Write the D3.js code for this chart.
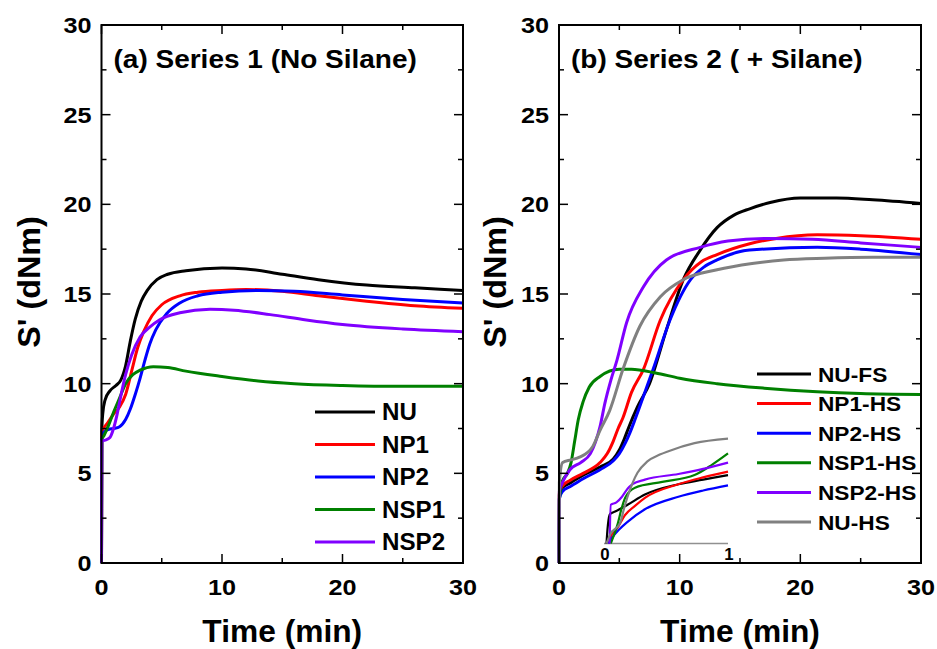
<!DOCTYPE html>
<html><head><meta charset="utf-8">
<script src="https://cdn.jsdelivr.net/npm/d3@7"></script>
<style>
body{margin:0;background:#fff;}
text{font-family:Arial,"Liberation Sans",sans-serif;font-weight:bold;fill:#000;}
</style></head>
<body><svg id="c" width="937" height="649"></svg>
<script>
// ---------- DATA ----------
const xTickLabels = [0, 10, 20, 30];
const xMinorTicks = [5, 15, 25];
const yTickLabels = [0, 5, 10, 15, 20, 25, 30];
const yMinorTicks = [2.5, 7.5, 12.5, 17.5, 22.5, 27.5];

// Panel (a) — Series 1 (No Silane): [time (min), S' (dNm)]
const namesA = ["NU", "NP1", "NP2", "NSP1", "NSP2"];
const colorsA = ["#000000", "#ff0000", "#0000ff", "#008000", "#8000ff"];
const NU = [[0,0],[0.02,7.3],[0.1,8.3],[0.3,9.1],[0.7,9.6],[1.2,9.9],[1.6,10.2],[2.0,11.0],[2.4,12.4],[2.8,13.6],[3.3,14.6],[3.8,15.2],[4.6,15.8],[5.5,16.1],[7,16.3],[10,16.45],[12,16.4],[15,16.1],[18,15.8],[22,15.5],[26,15.35],[30,15.2]];
const NP1 = [[0,0],[0.02,7.1],[0.1,7.4],[0.5,7.8],[1.0,8.3],[1.5,8.7],[2.0,9.4],[2.5,10.7],[3.0,12.0],[3.5,12.9],[4.2,13.8],[5,14.4],[6.5,14.9],[8,15.1],[10,15.2],[12,15.25],[15,15.15],[18,14.9],[22,14.6],[26,14.35],[30,14.2]];
const NP2 = [[0,0],[0.02,6.9],[0.2,7.3],[0.6,7.45],[1.0,7.5],[1.5,7.6],[2.0,8.0],[2.4,8.6],[2.8,9.4],[3.2,10.3],[3.6,11.3],[4.0,12.2],[4.5,13.0],[5.4,13.9],[6.5,14.5],[8,14.9],[10,15.1],[13,15.2],[16,15.15],[20,14.95],[25,14.7],[30,14.5]];
const NSP1 = [[0,0],[0.02,6.9],[0.2,7.1],[0.6,7.7],[1.0,8.4],[1.5,9.2],[2.0,10.0],[2.6,10.5],[3.2,10.75],[4.3,10.95],[5.5,10.9],[7,10.7],[10,10.4],[13,10.15],[16,10.0],[20,9.9],[25,9.85],[30,9.85]];
const NSP2 = [[0,0],[0.02,6.8],[0.3,6.85],[0.7,7.0],[1.0,7.5],[1.3,8.3],[1.6,9.3],[2.0,10.5],[2.5,11.6],[3.2,12.6],[4,13.15],[4.8,13.55],[6.5,13.95],[9,14.15],[11,14.1],[14,13.85],[17,13.55],[20,13.3],[25,13.05],[30,12.9]];

// Panel (b) — Series 2 (+ Silane)
const namesB = ["NU-FS", "NP1-HS", "NP2-HS", "NSP1-HS", "NSP2-HS", "NU-HS"];
const colorsB = ["#000000", "#ff0000", "#0000ff", "#008000", "#8000ff", "#808080"];
const NU_FS = [[0,0],[0.03,3.8],[0.3,4.2],[0.9,4.45],[2,4.9],[3.4,5.35],[4.5,5.8],[5.0,6.3],[5.4,6.9],[5.8,7.6],[6.5,8.7],[7.5,10.0],[8.9,13.0],[10.3,15.8],[11.7,17.45],[13.1,18.7],[14.5,19.4],[15.8,19.75],[17.5,20.1],[20,20.35],[23,20.35],[26,20.25],[30,20.05]];
const NP1_HS = [[0,0],[0.03,3.9],[0.3,4.3],[0.9,4.6],[2,5.0],[3.4,5.6],[4.0,6.1],[4.5,6.8],[4.9,7.5],[5.3,8.1],[6.0,9.5],[7.0,10.8],[8.4,13.55],[10.3,15.8],[11.8,16.8],[13.1,17.2],[15.8,17.8],[18,18.1],[21.4,18.3],[25,18.25],[30,18.05]];
const NP2_HS = [[0,0],[0.03,3.6],[0.3,4.0],[0.9,4.25],[2,4.7],[3.4,5.2],[4.5,5.7],[5.0,6.1],[5.5,6.7],[5.9,7.3],[6.3,8.0],[7.0,9.3],[7.8,10.8],[9.2,13.55],[10.9,15.8],[12,16.5],[13.1,16.9],[15.8,17.45],[21.4,17.6],[25,17.5],[30,17.2]];
const NSP1_HS = [[0,0],[0.03,3.5],[0.3,4.6],[0.7,5.0],[1.0,5.6],[1.3,6.8],[1.6,8.0],[2.0,9.0],[2.5,9.8],[3.4,10.4],[5,10.8],[6,10.8],[8,10.6],[10,10.3],[13.1,10.0],[17,9.75],[21.4,9.55],[25,9.45],[30,9.4]];
const NSP2_HS = [[0,0],[0.03,4.0],[0.3,4.5],[0.9,5.2],[1.8,5.6],[2.6,6.1],[3.0,6.7],[3.4,7.6],[3.8,8.9],[4.3,10.2],[4.8,11.3],[5.6,13.4],[7.0,15.4],[8.9,16.9],[11.7,17.6],[14,17.95],[17.2,18.1],[21,18.05],[25,17.85],[30,17.6]];
const NU_HS = [[0,0],[0.03,4.5],[0.3,5.6],[1.0,5.75],[1.7,5.9],[2.8,6.5],[3.4,7.4],[4.2,8.5],[5.3,10.8],[6.7,13.2],[8.4,14.85],[10.3,15.8],[13.1,16.35],[16,16.7],[18.6,16.9],[22,17.0],[26,17.05],[30,17.05]];

// Inset (panel b): first minute, relative units
const insetXTicks = [0, 1];
const inset_NU_FS = [[0.02,0],[0.025,0.8],[0.04,2.3],[0.05,2.6],[0.09,2.8],[0.19,3.4],[0.33,4.3],[0.6,5.2],[0.8,5.6],[1.0,6.0]];
const inset_NP1_HS = [[0.04,0],[0.05,0.5],[0.11,1.4],[0.17,2.5],[0.25,3.3],[0.33,4.0],[0.6,5.2],[0.8,5.8],[1.0,6.3]];
const inset_NP2_HS = [[0.035,0],[0.065,0.5],[0.12,1.2],[0.19,1.9],[0.33,3.0],[0.6,4.1],[0.8,4.65],[1.0,5.1]];
const inset_NSP1_HS = [[0.055,0],[0.065,0.3],[0.11,1.7],[0.14,3.0],[0.17,4.0],[0.25,4.9],[0.47,5.4],[0.73,6.0],[0.87,6.9],[1.0,7.9]];
const inset_NSP2_HS = [[0.045,0],[0.055,3.4],[0.1,3.6],[0.145,4.1],[0.19,4.8],[0.23,5.2],[0.33,5.6],[0.6,6.1],[0.8,6.55],[1.0,7.1]];
const inset_NU_HS = [[0.02,0],[0.05,0.8],[0.13,1.8],[0.16,3.0],[0.19,4.1],[0.23,5.3],[0.27,6.2],[0.35,7.2],[0.45,7.8],[0.52,8.1],[0.73,8.8],[1.0,9.2]];

const seriesA = [NU, NP1, NP2, NSP1, NSP2];
const seriesB = [NU_FS, NP1_HS, NP2_HS, NSP1_HS, NSP2_HS, NU_HS];
const insetB = [inset_NU_FS, inset_NP1_HS, inset_NP2_HS, inset_NSP1_HS, inset_NSP2_HS, inset_NU_HS];

// ---------- DRAW ----------
const svg = d3.select("#c");
const plotTop = 25, plotBottom = 563;
const y = d3.scaleLinear().domain([0, 30]).range([plotBottom, plotTop]);

function txt(g, x, yy, str, size, sx, anchor, rot) {
  return g.append("text")
    .attr("transform", `translate(${x},${yy})` + (rot ? ` rotate(${rot})` : "") + ` scale(${sx},1)`)
    .attr("text-anchor", anchor || "start").attr("font-size", size).text(str);
}

function panel(x0, x1, title, series, colors, names, legend, ylabX) {
  const x = d3.scaleLinear().domain([0, 30]).range([x0, x1]);
  const g = svg.append("g");
  const line = d3.line().x(d => x(d[0])).y(d => y(d[1])).curve(d3.curveMonotoneX);
  series.forEach((s, i) => {
    g.append("path").attr("d", line(s)).attr("fill", "none")
      .attr("stroke", colors[i]).attr("stroke-width", 3).attr("stroke-linejoin", "round");
  });
  const tk = g.append("g").attr("stroke", "#000").attr("stroke-width", 1.5);
  xTickLabels.forEach(v => {
    tk.append("line").attr("x1", x(v)).attr("x2", x(v)).attr("y1", plotBottom).attr("y2", plotBottom - 9);
    tk.append("line").attr("x1", x(v)).attr("x2", x(v)).attr("y1", plotTop).attr("y2", plotTop + 9);
  });
  xMinorTicks.forEach(v => {
    tk.append("line").attr("x1", x(v)).attr("x2", x(v)).attr("y1", plotBottom).attr("y2", plotBottom - 5);
    tk.append("line").attr("x1", x(v)).attr("x2", x(v)).attr("y1", plotTop).attr("y2", plotTop + 5);
  });
  yTickLabels.forEach(v => {
    tk.append("line").attr("x1", x0).attr("x2", x0 + 9).attr("y1", y(v)).attr("y2", y(v));
    tk.append("line").attr("x1", x1).attr("x2", x1 - 9).attr("y1", y(v)).attr("y2", y(v));
  });
  yMinorTicks.forEach(v => {
    tk.append("line").attr("x1", x0).attr("x2", x0 + 5).attr("y1", y(v)).attr("y2", y(v));
    tk.append("line").attr("x1", x1).attr("x2", x1 - 5).attr("y1", y(v)).attr("y2", y(v));
  });
  g.append("rect").attr("x", x0).attr("y", plotTop).attr("width", x1 - x0).attr("height", plotBottom - plotTop)
    .attr("fill", "none").attr("stroke", "#000").attr("stroke-width", 2);
  xTickLabels.forEach(v => txt(g, x(v), plotBottom + 32, v, 22.5, 1.12, "middle"));
  yTickLabels.forEach(v => txt(g, x0 - 10, y(v) + 8, v, 22.5, 1.12, "end"));
  txt(g, (x0 + x1) / 2, 642, "Time (min)", 30.5, 1.04, "middle");
  txt(g, ylabX, 282, "S' (dNm)", 30.5, 1.06, "middle", -90);
  txt(g, x0 + 12, 68, title, 25, 1.12, "start");
  names.forEach((n, i) => {
    const ly = legend.y + i * legend.dy;
    g.append("line").attr("x1", legend.x).attr("x2", legend.x + legend.len).attr("y1", ly).attr("y2", ly)
      .attr("stroke", colors[i]).attr("stroke-width", 3);
    txt(g, legend.x + legend.len + 7, ly + legend.fs * 0.36, n, legend.fs, legend.sx, "start");
  });
  return x;
}

panel(101.5, 463, "(a) Series 1 (No Silane)", seriesA, colorsA, namesA, {x: 315, y: 412, dy: 32.5, len: 60, fs: 23, sx: 1.05}, 40);
panel(559, 921, "(b) Series 2 ( + Silane)", seriesB, colorsB, namesB, {x: 757, y: 374, dy: 29.6, len: 54, fs: 21, sx: 1.08}, 506);

// inset
const ix = d3.scaleLinear().domain([0, 1]).range([604, 728]);
const iy = d3.scaleLinear().domain([0, 10]).range([543.5, 429.5]);
const ig = svg.append("g");
const iline = d3.line().x(d => ix(d[0])).y(d => iy(d[1])).curve(d3.curveMonotoneX);
ig.append("line").attr("x1", ix(0)).attr("x2", ix(1)).attr("y1", iy(0)).attr("y2", iy(0))
  .attr("stroke", "#909090").attr("stroke-width", 1.5);
insetB.forEach((s, i) => {
  ig.append("path").attr("d", iline(s)).attr("fill", "none")
    .attr("stroke", colorsB[i]).attr("stroke-width", 2.2);
});
insetXTicks.forEach(v => txt(ig, ix(v) + 1, 560, v, 16, 1.05, "middle"));
</script></body></html>
